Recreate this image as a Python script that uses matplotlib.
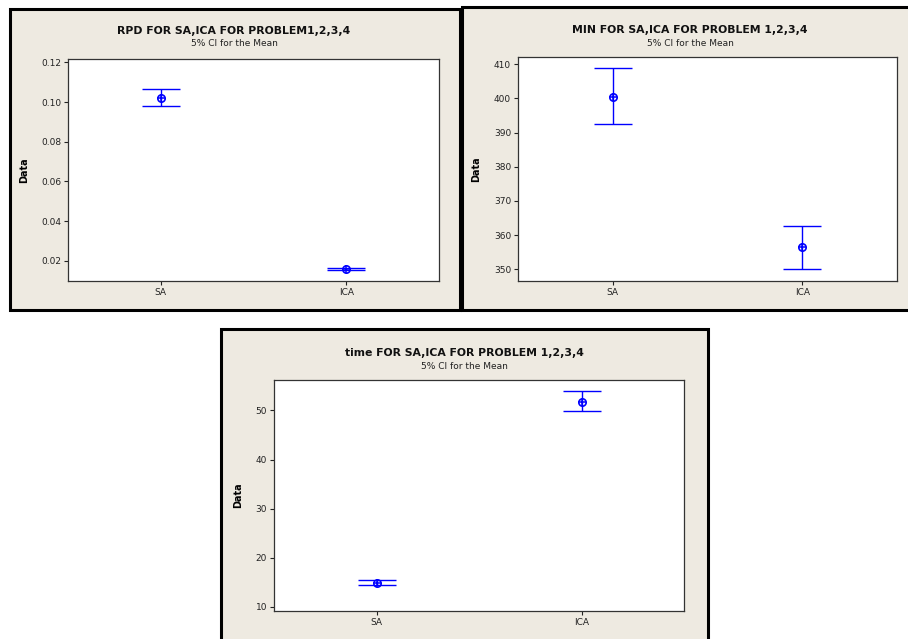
import numpy as np
import matplotlib
matplotlib.use('Agg')
import matplotlib.pyplot as plt
from matplotlib.patches import Rectangle

W, H = 908, 639
groups = ['SA', 'ICA']

# mean, lower and upper CI bounds
rpd_mean = [0.1022, 0.0157]
rpd_lo = [0.0980, 0.0153]
rpd_hi = [0.1064, 0.0162]

min_mean = [400.4, 356.4]
min_lo = [392.5, 350.0]
min_hi = [408.8, 362.8]

time_mean = [14.83, 51.7]
time_lo = [14.48, 49.88]
time_hi = [15.44, 53.95]

bg = '#EEEAE1'
blue = '#0000FF'

fig = plt.figure(figsize=(W / 100, H / 100), dpi=100)

def px_rect(x0, y0, x1, y1):
    # pixel box (top-left origin) -> figure fraction [l, b, w, h]
    return [x0 / W, 1 - y1 / H, (x1 - x0) / W, (y1 - y0) / H]

def panel(box, axbox, title, sub, tx, ty, mean, lo, hi, ylim, yticks, fmt, labx):
    l, b, w, h = px_rect(*box)
    fig.patches.append(Rectangle((l, b), w, h, transform=fig.transFigure,
                                 facecolor=bg, edgecolor='black', lw=2.2, zorder=0))
    ax = fig.add_axes(px_rect(*axbox))
    ax.set_zorder(2)
    ax.set_facecolor('white')
    x = np.arange(1, len(groups) + 1)
    m = np.array(mean)
    err = [m - np.array(lo), np.array(hi) - m]
    ax.errorbar(x, m, yerr=err, fmt='none', ecolor=blue, elinewidth=1.0,
                capsize=14, capthick=1.0)
    ax.plot(x, m, 'o', ms=5.3, mfc='none', mec=blue, mew=1.2)
    ax.plot(x, m, '+', ms=5.3, mec=blue, mew=1.1)
    ax.set_xlim(0.5, 2.5)
    ax.set_ylim(*ylim)
    ax.set_xticks(x)
    ax.set_xticklabels(groups)
    ax.set_yticks(yticks)
    ax.set_yticklabels([fmt.format(v) for v in yticks])
    ax.tick_params(direction='out', length=3, width=0.8, labelsize=6.5,
                   colors='#222222', pad=2)
    for s in ax.spines.values():
        s.set_color('#333333')
        s.set_linewidth(0.9)
    ax.set_ylabel('Data', fontsize=7, fontweight='bold')
    ax.yaxis.set_label_coords(labx, 0.5)
    fig.text(tx / W, 1 - ty / H, title, ha='center', va='center',
             fontsize=7.8, fontweight='bold', color='#111111', zorder=3)
    fig.text(tx / W, 1 - (ty + 13) / H, sub, ha='center', va='center',
             fontsize=6.5, color='#222222', zorder=3)
    return ax

panel((10, 9, 460, 310), (68, 59, 439, 281),
      'RPD FOR SA,ICA FOR PROBLEM1,2,3,4', '5% CI for the Mean', 234, 31,
      rpd_mean, rpd_lo, rpd_hi, (0.00977, 0.1217),
      [0.02, 0.04, 0.06, 0.08, 0.10, 0.12], '{:.2f}', -0.105)

panel((462, 6.5, 915, 310), (518, 57, 897, 281),
      'MIN FOR SA,ICA FOR PROBLEM 1,2,3,4', '5% CI for the Mean', 690, 30,
      min_mean, min_lo, min_hi, (346.6, 412.1),
      [350, 360, 370, 380, 390, 400, 410], '{:.0f}', -0.096)

panel((221, 329, 708, 650), (274, 380, 684, 611),
      'time FOR SA,ICA FOR PROBLEM 1,2,3,4', '5% CI for the Mean', 464, 353,
      time_mean, time_lo, time_hi, (9.18, 56.2),
      [10, 20, 30, 40, 50], '{:.0f}', -0.076)

fig.savefig('out.png', dpi=100, facecolor='white')
